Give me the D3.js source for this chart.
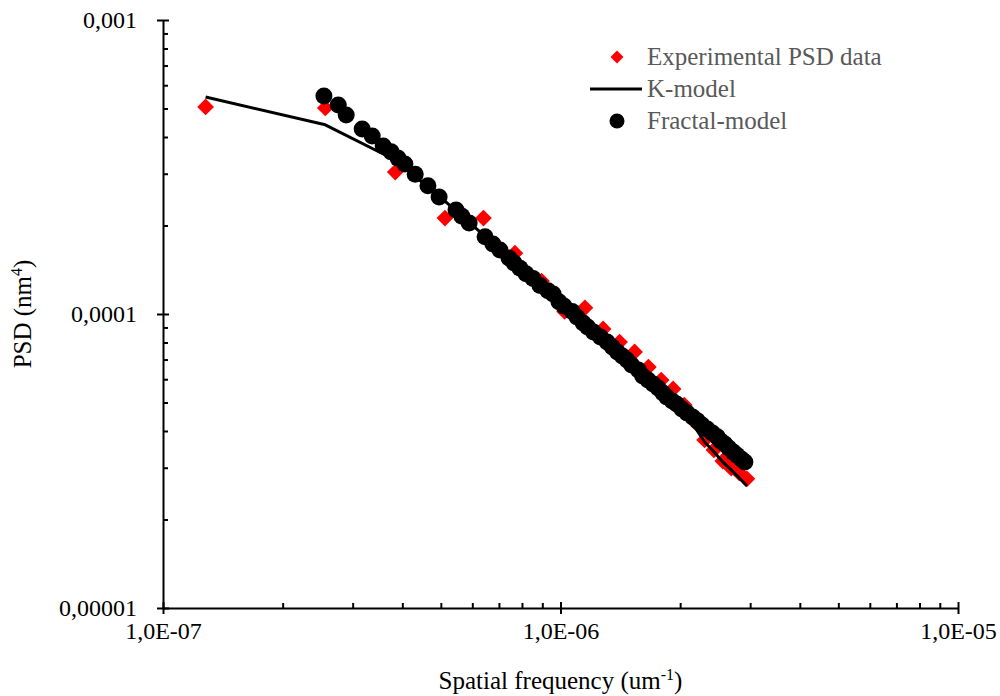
<!DOCTYPE html>
<html>
<head>
<meta charset="utf-8">
<script src="https://cdn.jsdelivr.net/npm/d3@7"></script>
<style>
  body { margin: 0; background: #fff; }
  svg { display: block; font-family: "Liberation Serif", "Times New Roman", serif; }
</style>
</head>
<body>
<div id="chart"></div>
<script>
// Experimental PSD data (spatial frequency, PSD)
const expFreq = [1.28e-7, 2.56e-7, 3.84e-7, 5.12e-7, 6.40e-7, 7.68e-7, 8.96e-7, 1.024e-6,
  1.152e-6, 1.28e-6, 1.408e-6, 1.536e-6, 1.664e-6, 1.792e-6, 1.92e-6, 2.048e-6,
  2.176e-6, 2.304e-6, 2.432e-6, 2.56e-6, 2.688e-6, 2.816e-6, 2.944e-6];
const expPsd = [5.06e-4, 5.02e-4, 3.04e-4, 2.12e-4, 2.12e-4, 1.61e-4, 1.295e-4, 1.02e-4,
  1.05e-4, 8.9e-5, 8.03e-5, 7.43e-5, 6.6e-5, 5.96e-5, 5.56e-5, 4.9e-5,
  4.3e-5, 3.73e-5, 3.45e-5, 3.16e-5, 2.99e-5, 2.88e-5, 2.75e-5];

// K-model, evaluated at the experimental frequencies
const kPsd = [5.47e-4, 4.40e-4, 3.34e-4, 2.42e-4, 1.857e-4, 1.503e-4, 1.255e-4, 1.073e-4,
  9.25e-5, 8.22e-5, 7.43e-5, 6.76e-5, 6.11e-5, 5.51e-5, 5.06e-5, 4.65e-5,
  4.13e-5, 3.67e-5, 3.40e-5, 3.14e-5, 2.95e-5, 2.77e-5, 2.60e-5];

// Fractal-model
const fracFreq = [2.54e-7, 2.76e-7, 2.89e-7, 3.17e-7, 3.36e-7, 3.58e-7, 3.75e-7, 3.90e-7,
  4.06e-7, 4.31e-7, 4.64e-7, 4.95e-7, 5.46e-7, 5.65e-7, 5.89e-7, 6.46e-7,
  6.76e-7, 7.04e-7, 7.42e-7, 7.64e-7, 7.91e-7, 8.19e-7, 8.53e-7, 8.88e-7,
  9.30e-7, 9.58e-7, 9.91e-7, 1.02e-6, 1.07e-6, 1.10e-6, 1.14e-6, 1.17e-6,
  1.21e-6, 1.26e-6, 1.31e-6, 1.35e-6, 1.39e-6, 1.43e-6, 1.47e-6, 1.51e-6,
  1.57e-6, 1.61e-6, 1.66e-6, 1.71e-6, 1.76e-6, 1.81e-6, 1.85e-6, 1.91e-6,
  1.96e-6, 2.02e-6, 2.08e-6, 2.15e-6, 2.21e-6, 2.27e-6, 2.34e-6, 2.41e-6,
  2.48e-6, 2.53e-6, 2.59e-6, 2.65e-6, 2.72e-6, 2.78e-6, 2.85e-6, 2.91e-6];
const fracPsd = [5.51e-4, 5.14e-4, 4.75e-4, 4.26e-4, 4.03e-4, 3.73e-4, 3.56e-4, 3.39e-4,
  3.24e-4, 2.99e-4, 2.73e-4, 2.50e-4, 2.26e-4, 2.15e-4, 2.04e-4, 1.83e-4,
  1.73e-4, 1.65e-4, 1.55e-4, 1.49e-4, 1.43e-4, 1.37e-4, 1.32e-4, 1.25e-4,
  1.20e-4, 1.17e-4, 1.10e-4, 1.065e-4, 1.02e-4, 9.77e-5, 9.32e-5, 9.03e-5,
  8.69e-5, 8.35e-5, 8.03e-5, 7.72e-5, 7.43e-5, 7.20e-5, 6.97e-5, 6.71e-5,
  6.45e-5, 6.15e-5, 5.96e-5, 5.78e-5, 5.60e-5, 5.39e-5, 5.22e-5, 5.06e-5,
  4.94e-5, 4.75e-5, 4.61e-5, 4.46e-5, 4.33e-5, 4.19e-5, 4.06e-5, 3.94e-5,
  3.82e-5, 3.70e-5, 3.61e-5, 3.50e-5, 3.39e-5, 3.31e-5, 3.21e-5, 3.14e-5];

// Axis ticks
const xMajor = [1e-7, 1e-6, 1e-5];
const xTickLabels = ['1,0E-07', '1,0E-06', '1,0E-05'];
const yMajor = [1e-5, 1e-4, 1e-3];
const yTickLabels = ['0,00001', '0,0001', '0,001'];
const legendLabels = ['Experimental PSD data', 'K-model', 'Fractal-model'];

const width = 1000, height = 696;
const margin = { top: 20, right: 42, bottom: 88, left: 163 };

const svg = d3.select('#chart').append('svg')
  .attr('width', width).attr('height', height);

const x = d3.scaleLog().domain([1e-7, 1e-5]).range([margin.left, width - margin.right]);
const y = d3.scaleLog().domain([1e-5, 1e-3]).range([height - margin.bottom, margin.top]);

function minorTicks(lo, hi) {
  const out = [];
  for (let p = lo; p < hi; p *= 10) {
    for (let k = 2; k <= 9; k++) out.push(p * k);
  }
  return out;
}

// minor ticks (inside)
svg.append('g')
  .attr('transform', `translate(0,${y(1e-5)})`)
  .call(d3.axisBottom(x).tickValues(minorTicks(1e-7, 1e-5)).tickSize(-5).tickSizeOuter(0).tickFormat(''))
  .call(g => g.select('.domain').remove())
  .selectAll('line').attr('stroke', '#000').attr('stroke-width', 1.3);
svg.append('g')
  .attr('transform', `translate(${x(1e-7)},0)`)
  .call(d3.axisLeft(y).tickValues(minorTicks(1e-5, 1e-3)).tickSize(-5).tickSizeOuter(0).tickFormat(''))
  .call(g => g.select('.domain').remove())
  .selectAll('line').attr('stroke', '#000').attr('stroke-width', 1.3);

// major axes
const xAxisG = svg.append('g')
  .attr('transform', `translate(0,${y(1e-5)})`)
  .call(d3.axisBottom(x).tickValues(xMajor).tickSize(6).tickSizeOuter(0)
    .tickFormat((d, i) => xTickLabels[i]));
xAxisG.selectAll('.tick line').attr('y1', -6).attr('y2', 6);
xAxisG.selectAll('.tick text').attr('y', 14).attr('font-size', 24)
  .attr('font-family', '"Liberation Serif", serif').attr('fill', '#000');

const yAxisG = svg.append('g')
  .attr('transform', `translate(${x(1e-7)},0)`)
  .call(d3.axisLeft(y).tickValues(yMajor).tickSize(6).tickSizeOuter(0)
    .tickFormat((d, i) => yTickLabels[i]));
yAxisG.selectAll('.tick line').attr('x1', -6).attr('x2', 6);
yAxisG.selectAll('.tick text').attr('x', -26).attr('font-size', 24)
  .attr('font-family', '"Liberation Serif", serif').attr('fill', '#000');

svg.selectAll('.domain, .tick line').attr('stroke', '#000').attr('stroke-width', 2);

// axis titles
const xTitle = svg.append('text')
  .attr('x', (x(1e-7) + x(1e-5)) / 2).attr('y', 689)
  .attr('text-anchor', 'middle').attr('font-size', 25).attr('fill', '#000');
xTitle.append('tspan').text('Spatial frequency (um');
xTitle.append('tspan').attr('font-size', 16).attr('dy', -9).text('-1');
xTitle.append('tspan').attr('dy', 9).text(')');

const yTitle = svg.append('text')
  .attr('transform', `translate(31,${(y(1e-3) + y(1e-5)) / 2}) rotate(-90)`)
  .attr('text-anchor', 'middle').attr('font-size', 25).attr('fill', '#000');
yTitle.append('tspan').text('PSD (nm');
yTitle.append('tspan').attr('font-size', 16).attr('dy', -9).text('4');
yTitle.append('tspan').attr('dy', 9).text(')');

// series
svg.append('g').selectAll('path')
  .data(expFreq.map((f, i) => [f, expPsd[i]]))
  .join('path')
  .attr('transform', d => `translate(${x(d[0])},${y(d[1])}) rotate(45)`)
  .attr('d', d3.symbol().type(d3.symbolSquare).size(140))
  .attr('fill', '#ff0000');

svg.append('path')
  .datum(expFreq.map((f, i) => [f, kPsd[i]]))
  .attr('fill', 'none').attr('stroke', '#000').attr('stroke-width', 3)
  .attr('stroke-linejoin', 'round')
  .attr('d', d3.line().x(d => x(d[0])).y(d => y(d[1])));

svg.append('g').selectAll('circle')
  .data(fracFreq.map((f, i) => [f, fracPsd[i]]))
  .join('circle')
  .attr('cx', d => x(d[0])).attr('cy', d => y(d[1]))
  .attr('r', 8.5).attr('fill', '#000');

// legend
const lg = svg.append('g').attr('font-size', 25).attr('fill', '#595959');
const lx = 617, ly = [57, 89, 121];
lg.append('path')
  .attr('transform', `translate(${lx},${ly[0]}) rotate(45)`)
  .attr('d', d3.symbol().type(d3.symbolSquare).size(84))
  .attr('fill', '#ff0000');
lg.append('line')
  .attr('x1', lx - 27).attr('x2', lx + 25).attr('y1', ly[1]).attr('y2', ly[1])
  .attr('stroke', '#000').attr('stroke-width', 3);
lg.append('circle').attr('cx', lx).attr('cy', ly[2]).attr('r', 7.5).attr('fill', '#000');
lg.selectAll('text').data(legendLabels).join('text')
  .attr('x', 647).attr('y', (d, i) => ly[i] + 8)
  .text(d => d);
</script>
</body>
</html>
